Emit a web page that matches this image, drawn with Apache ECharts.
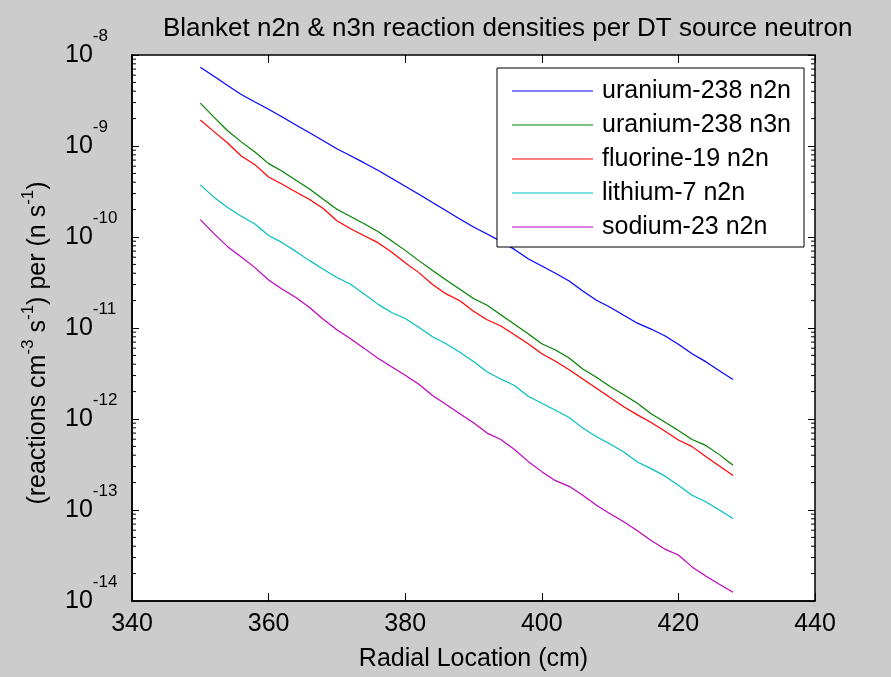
<!DOCTYPE html>
<html>
<head>
<meta charset="utf-8">
<script src="https://cdn.jsdelivr.net/npm/echarts@6.0.0/dist/echarts.min.js"></script>
<style>
  html, body { margin: 0; padding: 0; background: #cccccc; }
  #chart { width: 891px; height: 677px; }
</style>
</head>
<body>
<div id="chart"></div>
<script>
// radial location (cm), one point every 2 cm
const radialLocation = [350, 352, 354, 356, 358, 360, 362, 364, 366, 368,
  370, 372, 374, 376, 378, 380, 382, 384, 386, 388,
  390, 392, 394, 396, 398, 400, 402, 404, 406, 408,
  410, 412, 414, 416, 418, 420, 422, 424, 426, 428];

// reaction densities per DT source neutron
const u238n2n = [7.33e-9, 5.85e-9, 4.61e-9, 3.68e-9, 3.05e-9, 2.54e-9, 2.08e-9, 1.70e-9, 1.40e-9, 1.14e-9,
  9.31e-10, 7.83e-10, 6.52e-10, 5.41e-10, 4.43e-10, 3.61e-10, 2.95e-10, 2.39e-10, 1.94e-10, 1.58e-10,
  1.29e-10, 1.08e-10, 8.95e-11, 7.31e-11, 5.78e-11, 4.80e-11, 3.99e-11, 3.29e-11, 2.55e-11, 2.02e-11,
  1.69e-11, 1.38e-11, 1.13e-11, 9.73e-12, 8.22e-12, 6.61e-12, 5.21e-12, 4.27e-12, 3.40e-12, 2.71e-12];
const u238n3n = [2.96e-9, 2.08e-9, 1.47e-9, 1.11e-9, 8.59e-10, 6.40e-10, 5.27e-10, 4.20e-10, 3.37e-10, 2.60e-10,
  2.02e-10, 1.68e-10, 1.40e-10, 1.15e-10, 9.10e-11, 7.13e-11, 5.50e-11, 4.28e-11, 3.37e-11, 2.67e-11,
  2.11e-11, 1.78e-11, 1.40e-11, 1.10e-11, 8.63e-12, 6.71e-12, 5.73e-12, 4.68e-12, 3.55e-12, 2.88e-12,
  2.27e-12, 1.85e-12, 1.49e-12, 1.14e-12, 9.25e-13, 7.48e-13, 5.96e-13, 5.13e-13, 4.06e-13, 3.10e-13];
const f19n2n = [1.93e-9, 1.44e-9, 1.08e-9, 7.76e-10, 6.24e-10, 4.57e-10, 3.80e-10, 3.13e-10, 2.58e-10, 2.06e-10,
  1.51e-10, 1.23e-10, 1.03e-10, 8.67e-11, 6.84e-11, 5.22e-11, 4.06e-11, 3.01e-11, 2.37e-11, 1.99e-11,
  1.53e-11, 1.23e-11, 1.05e-11, 8.43e-12, 6.71e-12, 5.21e-12, 4.31e-12, 3.48e-12, 2.75e-12, 2.18e-12,
  1.72e-12, 1.36e-12, 1.11e-12, 9.16e-13, 7.36e-13, 5.87e-13, 4.97e-13, 3.88e-13, 3.05e-13, 2.40e-13];
const li7n2n = [3.74e-10, 2.74e-10, 2.11e-10, 1.69e-10, 1.39e-10, 1.04e-10, 8.67e-11, 6.95e-11, 5.50e-11, 4.42e-11,
  3.59e-11, 3.03e-11, 2.37e-11, 1.83e-11, 1.48e-11, 1.27e-11, 1.02e-11, 8.02e-12, 6.71e-12, 5.41e-12,
  4.29e-12, 3.29e-12, 2.75e-12, 2.33e-12, 1.78e-12, 1.49e-12, 1.25e-12, 1.04e-12, 7.94e-13, 6.38e-13,
  5.31e-13, 4.34e-13, 3.37e-13, 2.85e-13, 2.37e-13, 1.87e-13, 1.45e-13, 1.23e-13, 1.00e-13, 8.07e-14];
const na23n2n = [1.55e-10, 1.09e-10, 7.83e-11, 6.03e-11, 4.61e-11, 3.37e-11, 2.67e-11, 2.16e-11, 1.68e-11, 1.25e-11,
  9.55e-12, 7.62e-12, 5.97e-12, 4.65e-12, 3.76e-12, 3.02e-12, 2.41e-12, 1.81e-12, 1.44e-12, 1.14e-12,
  9.08e-13, 7.00e-13, 5.96e-13, 4.63e-13, 3.42e-13, 2.64e-13, 2.10e-13, 1.82e-13, 1.45e-13, 1.13e-13,
  9.08e-14, 7.43e-14, 5.92e-14, 4.63e-14, 3.72e-14, 3.20e-14, 2.37e-14, 1.88e-14, 1.53e-14, 1.25e-14];

const seriesNames = ["uranium-238 n2n", "uranium-238 n3n", "fluorine-19 n2n", "lithium-7 n2n", "sodium-23 n2n"];
const seriesColors = ["#0000ff", "#008000", "#ff0000", "#00bfbf", "#bf00bf"];
const seriesValues = [u238n2n, u238n3n, f19n2n, li7n2n, na23n2n];

const xMin = 340, xMax = 440, xStep = 20;
const yMin = 1e-14, yMax = 1e-8;

// log minor tick positions (2..9 x 10^n)
const minorTickValues = [];
for (let n = -14; n < -8; n++) {
  for (let k = 2; k <= 9; k++) minorTickValues.push(k * Math.pow(10, n));
}

const FONT = "'Liberation Sans', Arial, sans-serif";
const chart = echarts.init(document.getElementById("chart"));

let lineSeries = seriesNames.map((name, i) => ({
  name: name,
  type: "line",
  data: radialLocation.map((x, j) => [x, seriesValues[i][j]]),
  symbol: "none",
  lineStyle: {color: seriesColors[i], width: 1.2},
  itemStyle: {color: seriesColors[i]},
  emphasis: {disabled: true},
  z: 3
}));

// minor ticks on left and right edge of the box
lineSeries.push({
  type: "custom",
  name: "minor",
  silent: true,
  clip: false,
  data: minorTickValues.map(v => [xMin, v]),
  renderItem: function (params, api) {
    let pl = api.coord([xMin, api.value(1)]);
    let pr = api.coord([xMax, api.value(1)]);
    return {
      type: "group",
      children: [
        {type: "line", shape: {x1: pl[0], y1: pl[1], x2: pl[0] + 4, y2: pl[1]}, style: {stroke: "#000", lineWidth: 1}},
        {type: "line", shape: {x1: pr[0] - 4, y1: pr[1], x2: pr[0], y2: pr[1]}, style: {stroke: "#000", lineWidth: 1}}
      ]
    };
  },
  z: 4
});

chart.setOption({
  animation: false,
  backgroundColor: "#cccccc",
  textStyle: {fontFamily: FONT},
  title: {
    text: "Blanket n2n & n3n reaction densities per DT source neutron",
    left: 158,
    top: 11,
    textStyle: {fontSize: 26, fontWeight: "normal", color: "#000", fontFamily: FONT}
  },
  grid: {
    left: 132, top: 55, right: 76, bottom: 74,
    show: true, backgroundColor: "#ffffff", borderColor: "#000", borderWidth: 1.5
  },
  legend: {
    data: seriesNames,
    orient: "vertical",
    left: 497,
    top: 68,
    backgroundColor: "#ffffff",
    borderColor: "#000",
    borderWidth: 1,
    padding: [8, 13, 5, 15],
    icon: "rect",
    itemWidth: 81,
    itemHeight: 1.2,
    itemGap: 4,
    textStyle: {fontSize: 25, color: "#000", lineHeight: 30, padding: [0, 0, 0, 4], fontFamily: FONT}
  },
  xAxis: [{
    type: "value",
    position: "bottom",
    min: xMin, max: xMax, interval: xStep,
    name: "Radial Location (cm)",
    nameLocation: "middle",
    nameGap: 46,
    nameTextStyle: {fontSize: 25, color: "#000", fontFamily: FONT},
    axisLine: {show: true, lineStyle: {color: "#000", width: 1.5}},
    axisTick: {show: true, inside: true, length: 8, lineStyle: {color: "#000"}},
    axisLabel: {fontSize: 25, color: "#000", margin: 11, fontFamily: FONT},
    splitLine: {show: false}
  }, {
    type: "value",
    position: "top",
    min: xMin, max: xMax, interval: xStep,
    axisLine: {show: false},
    axisTick: {show: true, inside: true, length: 8, lineStyle: {color: "#000"}},
    axisLabel: {show: false},
    splitLine: {show: false}
  }],
  yAxis: [{
    type: "log",
    logBase: 10,
    position: "left",
    min: yMin, max: yMax,
    name: "{t|(reactions cm}{s|-3}{t| s}{s|-1}{t|) per (n s}{s|-1}{t|)}",
    nameLocation: "middle",
    nameRotate: 90,
    nameGap: 76,
    nameTextStyle: {
      color: "#000",
      padding: [0, 30, 0, 0],
      rich: {
        t: {fontSize: 25, lineHeight: 36, verticalAlign: "middle", color: "#000", fontFamily: FONT},
        s: {fontSize: 17, lineHeight: 17, verticalAlign: "top", color: "#000", fontFamily: FONT}
      }
    },
    axisLine: {show: true, lineStyle: {color: "#000", width: 1.5}},
    axisTick: {show: true, inside: true, length: 7, lineStyle: {color: "#000"}},
    axisLabel: {
      align: "left",
      margin: 67,
      formatter: function (v) {
        return "{b|10}{e|" + Math.round(Math.log10(v)) + "}";
      },
      rich: {
        b: {fontSize: 25, lineHeight: 54, verticalAlign: "middle", color: "#000", fontFamily: FONT},
        e: {fontSize: 17, lineHeight: 17, verticalAlign: "top", color: "#000", fontFamily: FONT}
      }
    },
    splitLine: {show: false}
  }, {
    type: "log",
    logBase: 10,
    position: "right",
    min: yMin, max: yMax,
    axisLine: {show: false},
    axisTick: {show: true, inside: true, length: 7, lineStyle: {color: "#000"}},
    axisLabel: {show: false},
    splitLine: {show: false}
  }],
  series: lineSeries
});
</script>
</body>
</html>
